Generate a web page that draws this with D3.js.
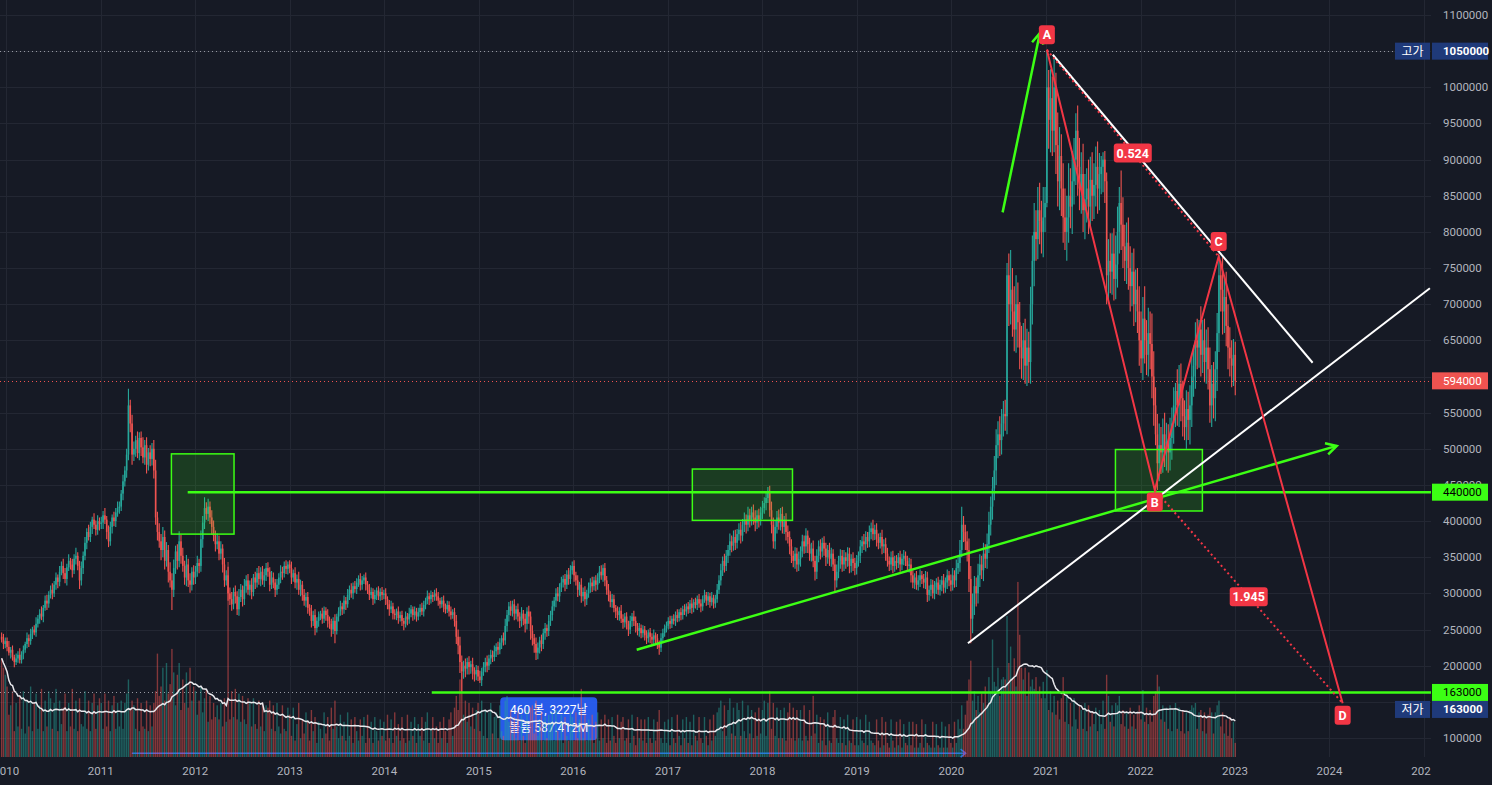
<!DOCTYPE html>
<html>
<head>
<meta charset="utf-8">
<script src="https://d3js.org/d3.v7.min.js"></script>
<style>
html, body { margin: 0; padding: 0; background: #161a25; overflow: hidden; }
svg { display: block; font-family: Roboto, "Noto Sans CJK KR", sans-serif; }
</style>
</head>
<body>
<svg id="chart" width="1492" height="785"></svg>
<script>
// weekly bars, first bar = week of 2009-12-14, prices in 1000 won
var firstWeek = "2009-12-14";
var firstOpen = 240;

var closes = [
  // 2009
  236, 230, 234,
  // 2010
  226, 218, 222, 212, 205, 210, 215, 208,
  216, 222, 230, 238, 234, 244, 250, 246, 258, 265,
  272, 268, 280, 290, 286, 298, 305,
  300, 312, 322, 316, 330, 338, 328,
  320, 336, 345, 340, 332, 348, 352, 338, 318, 335,
  352, 370, 385, 378, 392, 402, 395, 388, 400, 396,
  // 2011
  398, 408, 402, 385, 372, 392, 405, 400, 412, 418,
  420, 438, 455, 470, 492, 560, 535, 492,
  500, 512, 494, 515, 502, 488, 505, 478, 495, 486, 500, 470,
  405, 385, 372, 360, 378, 345, 360, 330, 318, 305,
  335, 358, 345, 372, 352, 338, 322, 340, 318, 312, 330, 322,
  // 2012
  330, 342, 338, 375, 398, 418, 410, 420, 405, 392,
  380, 368, 372, 355, 362, 340, 318, 325, 300, 292,
  285, 302, 296, 278, 295, 305, 292, 310, 318, 305,
  312, 302, 322, 315, 328, 320, 330, 318, 325, 335,
  330, 312, 322, 315, 305, 312, 322, 330, 328, 338, 334, 340,
  // 2013
  335, 322, 328, 315, 320, 305, 312, 298, 290, 295,
  280, 275, 262, 270, 252, 262, 268, 272, 265, 276,
  270, 262, 258, 250, 262, 248, 268, 275, 282, 278,
  290, 285, 298, 305, 300, 310, 306, 315, 320, 312,
  318, 322, 312, 305, 298, 302, 292, 298, 304, 296, 302, 298,
  // 2014
  300, 292, 285, 278, 282, 272, 270, 275, 266, 270,
  262, 258, 268, 264, 272, 278, 270, 275, 268, 274,
  280, 275, 284, 290, 296, 292, 298, 295, 300, 296,
  290, 285, 290, 282, 278, 284, 275, 270, 274, 262,
  240, 228, 205, 192, 200, 196, 205, 198, 202, 192, 188, 194,
  // 2015
  185, 180, 192, 198, 205, 200, 210, 215, 212, 220,
  226, 222, 232, 238, 235, 255, 270, 282, 276, 285,
  272, 278, 268, 262, 272, 265, 258, 275, 268, 248,
  238, 230, 218, 225, 235, 230, 245, 252, 248, 262,
  270, 282, 290, 300, 296, 308, 315, 320, 312, 326, 320, 332,
  // 2016
  338, 325, 318, 305, 312, 296, 302, 292, 300, 308,
  315, 310, 318, 312, 322, 330, 325, 335, 318, 305,
  298, 288, 292, 280, 275, 270, 276, 265, 260, 268,
  258, 250, 262, 268, 262, 255, 248, 252, 245, 250,
  242, 238, 246, 240, 236, 242, 238, 230, 225, 238, 245, 252,
  // 2017
  255, 262, 258, 265, 262, 270, 266, 274, 270, 278,
  275, 282, 278, 286, 280, 288, 284, 292, 286, 282,
  292, 298, 290, 296, 288, 294, 286, 292, 305, 318,
  332, 345, 338, 352, 360, 372, 366, 378, 370, 382,
  388, 380, 395, 402, 395, 408, 402, 412, 405, 398, 408, 402, 412,
  // 2018
  418, 425, 432, 440, 415, 395, 372, 392, 405, 398,
  410, 392, 400, 385, 378, 365, 352, 345, 355, 340,
  348, 358, 372, 365, 380, 368, 355, 362, 345, 330,
  352, 365, 358, 370, 362, 350, 360, 348, 355, 340,
  318, 330, 345, 352, 340, 350, 345, 355, 338, 348, 342, 335,
  // 2019
  345, 352, 365, 372, 368, 378, 372, 385, 390, 382,
  388, 375, 370, 378, 365, 368, 355, 345, 340, 350,
  338, 345, 342, 350, 340, 348, 352, 345, 338, 340,
  325, 315, 322, 312, 318, 325, 320, 315, 322, 298,
  305, 312, 300, 308, 315, 305, 312, 318, 308, 315, 325, 318,
  // 2020
  312, 325, 318, 335, 342, 360, 395, 385, 372, 360,
  320, 265, 285, 310, 300, 325, 340, 332, 355, 348,
  368, 395, 420, 445, 470, 505, 520, 512, 535, 548,
  545, 740, 700, 720, 690, 665, 700, 675, 640, 625,
  650, 615, 640, 620, 700, 760, 800, 790, 830, 815, 800, 820,
  // 2021
  840, 1000, 955, 985, 940, 1000, 920, 870, 905, 860,
  820, 800, 820, 850, 835, 870, 900, 940, 890, 860,
  880, 830, 845, 860, 835, 872, 850, 865, 890, 860,
  880, 890, 900, 870, 740, 760, 745, 770, 735, 755,
  800, 840, 810, 780, 760, 785, 750, 725, 745, 700, 720, 690,
  // 2022
  650, 625, 680, 650, 630, 660, 645, 600, 560, 520,
  480, 505, 495, 520, 500, 510, 495, 515, 535, 560,
  580, 560, 590, 570, 545, 530, 555, 540, 560, 600,
  615, 650, 640, 665, 630, 650, 620, 640, 610, 560,
  590, 570, 610, 660, 740, 720, 690, 710, 670, 640, 625, 615, 630,
  // 2023
  594
];

// upper / lower wick beyond the body, 1000 won
var wickUp = [
  6, 8, 5,
  5, 8, 4, 6, 3, 7, 5, 9,
  4, 6, 3, 8, 5, 7, 4, 6, 9, 5,
  6, 10, 4, 7, 8, 5, 6,
  9, 5, 7, 4, 8, 6, 10,
  7, 5, 9, 4, 8, 6, 11, 5, 7, 9,
  6, 8, 5, 10, 7, 4, 9, 6, 8, 5,
  // 2011
  8, 6, 10, 5, 9, 7, 4, 8, 6, 9,
  7, 5, 9, 6, 8, 23, 8, 12,
  10, 6, 12, 8, 9, 14, 7, 11, 6, 10, 8, 12,
  15, 8, 12, 10, 14, 9, 11, 7, 13, 10,
  12, 8, 10, 14, 9, 11, 7, 13, 8, 10, 6, 9,
  // 2012
  8, 10, 6, 12, 9, 15, 8, 11, 7, 10,
  9, 7, 11, 8, 10, 6, 9, 7, 12, 8,
  10, 6, 9, 7, 11, 8, 6, 10, 7, 9,
  6, 9, 5, 8, 7, 10, 6, 8, 9, 7,
  8, 6, 9, 7, 5, 8, 6, 9, 7, 6, 8, 4,
  // 2013
  6, 9, 5, 8, 6, 10, 7, 5, 8, 6,
  7, 5, 9, 6, 8, 5, 7, 4, 8, 6,
  5, 8, 6, 7, 5, 9, 4, 6, 8, 5,
  7, 5, 8, 6, 9, 5, 7, 6, 5, 8,
  6, 4, 7, 5, 8, 6, 5, 7, 4, 6, 5, 7,
  // 2014
  5, 7, 4, 6, 8, 5, 6, 4, 7, 5,
  6, 4, 7, 5, 8, 6, 4, 7, 5, 6,
  5, 7, 6, 4, 8, 5, 6, 4, 5, 7,
  6, 4, 5, 7, 4, 6, 5, 7, 4, 6,
  8, 10, 12, 9, 7, 10, 6, 8, 5, 9, 6, 7,
  // 2015
  6, 8, 5, 7, 6, 9, 5, 7, 6, 8,
  5, 7, 6, 4, 8, 10, 7, 6, 8, 5,
  7, 5, 8, 6, 9, 5, 7, 6, 8, 7,
  8, 6, 9, 7, 5, 8, 6, 7, 5, 8,
  6, 8, 5, 7, 9, 6, 8, 5, 7, 6, 9, 7,
  // 2016
  6, 8, 5, 7, 4, 9, 6, 8, 5, 7,
  6, 8, 5, 7, 6, 8, 9, 5, 7, 6,
  8, 5, 7, 6, 4, 7, 5, 8, 6, 5,
  6, 4, 7, 5, 8, 6, 4, 7, 5, 6,
  5, 7, 4, 6, 5, 8, 4, 6, 5, 7, 6, 5,
  // 2017
  6, 5, 7, 4, 6, 5, 8, 4, 6, 5,
  7, 4, 6, 5, 8, 4, 6, 5, 7, 6,
  5, 7, 4, 6, 5, 8, 4, 6, 8, 7,
  9, 6, 10, 8, 7, 11, 8, 9, 10, 7,
  9, 11, 8, 10, 7, 12, 9, 8, 11, 10, 7, 9, 8,
  // 2018
  10, 8, 8, 7, 9, 12, 10, 8, 9, 11,
  8, 10, 7, 11, 9, 8, 10, 7, 9, 8,
  10, 7, 9, 8, 10, 7, 9, 8, 11, 7,
  9, 8, 10, 7, 9, 8, 7, 10, 8, 6,
  8, 10, 7, 9, 8, 10, 7, 9, 8, 6, 9, 7,
  // 2019
  8, 6, 9, 7, 10, 8, 7, 9, 8, 12,
  7, 9, 8, 6, 10, 7, 9, 8, 6, 8,
  9, 7, 8, 6, 9, 7, 8, 6, 7, 9,
  8, 7, 6, 9, 7, 8, 6, 7, 9, 8,
  6, 8, 7, 9, 6, 8, 7, 6, 9, 7, 8, 6,
  // 2020
  8, 10, 7, 12, 9, 14, 25, 12, 10, 14,
  16, 18, 15, 14, 12, 16, 14, 12, 15, 13,
  15, 18, 14, 16, 20, 22, 18, 25, 20, 18,
  20, 17, 30, 55, 30, 35, 40, 30, 28, 30,
  24, 30, 26, 22, 24, 35, 40, 30, 32, 38, 28, 42,
  // 2021
  22, 50, 24, 40, 30, 40, 20, 45, 40, 30,
  35, 40, 30, 45, 38, 42, 30, 24, 35, 40,
  30, 42, 35, 28, 40, 32, 38, 30, 28, 35,
  29, 15, 10, 12, 12, 30, 38, 28, 35, 40,
  35, 22, 45, 38, 30, 28, 35, 30, 26, 32, 28, 30,
  // 2022
  35, 40, 30, 45, 28, 35, 30, 42, 35, 25,
  28, 30, 25, 22, 30, 26, 24, 28, 22, 25,
  11, 30, 26, 28, 24, 22, 26, 24, 28, 30,
  28, 25, 30, 13, 32, 28, 30, 25, 28, 30,
  26, 30, 25, 28, 28, 20, 45, 30, 35, 30, 28, 25, 22,
  // 2023
  18
];

var wickDown = [
  4, 7, 6,
  6, 4, 8, 5, 7, 4, 6, 5,
  5, 7, 4, 6, 8, 5, 7, 4, 6, 5,
  7, 5, 8, 4, 9, 6, 5,
  8, 5, 7, 9, 6, 5, 8,
  6, 9, 5, 7, 10, 5, 8, 6, 12, 7,
  8, 6, 9, 5, 7, 10, 6, 8, 7, 9,
  // 2011
  7, 9, 6, 10, 8, 6, 9, 7, 8, 6,
  8, 6, 9, 7, 10, 8, 12, 14,
  9, 11, 7, 10, 12, 8, 10, 12, 8, 10, 9, 11,
  10, 12, 9, 14, 10, 12, 8, 15, 10, 28,
  10, 8, 12, 9, 11, 8, 10, 12, 9, 11, 8, 10,
  // 2012
  9, 7, 10, 8, 12, 9, 8, 10, 9, 11,
  8, 10, 7, 9, 8, 11, 9, 7, 10, 8,
  9, 7, 10, 8, 9, 7, 10, 8, 9, 7,
  8, 10, 6, 9, 7, 8, 10, 6, 9, 8,
  7, 9, 6, 8, 10, 7, 6, 8, 9, 6, 7, 8,
  // 2013
  7, 9, 6, 8, 10, 7, 9, 8, 7, 9,
  8, 6, 9, 7, 10, 6, 8, 5, 7, 6,
  8, 9, 7, 10, 6, 17, 5, 7, 6, 8,
  6, 8, 5, 7, 6, 8, 5, 7, 6, 8,
  7, 5, 8, 6, 7, 5, 8, 6, 7, 5, 6, 7,
  // 2014
  6, 8, 7, 9, 5, 8, 6, 7, 8, 5,
  7, 9, 5, 8, 6, 5, 8, 6, 7, 5,
  6, 5, 7, 6, 5, 8, 6, 7, 5, 6,
  7, 6, 5, 8, 6, 5, 7, 6, 5, 8,
  10, 12, 15, 29, 10, 12, 8, 10, 9, 11, 10, 8,
  // 2015
  6, 4, 8, 6, 7, 9, 6, 8, 7, 6,
  8, 7, 6, 9, 7, 6, 8, 9, 7, 8,
  9, 8, 7, 10, 8, 9, 12, 8, 10, 12,
  10, 12, 10, 9, 8, 10, 7, 9, 8, 7,
  7, 8, 6, 9, 7, 8, 6, 7, 9, 6, 8, 7,
  // 2016
  6, 9, 7, 10, 8, 9, 7, 10, 8, 6,
  7, 8, 6, 9, 7, 8, 6, 9, 8, 7,
  9, 7, 8, 6, 9, 7, 8, 6, 9, 7,
  8, 9, 6, 8, 7, 9, 6, 8, 7, 6,
  7, 8, 6, 9, 7, 6, 8, 7, 10, 6, 7, 5,
  // 2017
  6, 5, 7, 6, 5, 7, 6, 5, 7, 6,
  5, 7, 6, 5, 8, 6, 5, 7, 6, 8,
  6, 5, 7, 6, 8, 5, 7, 6, 5, 6,
  7, 8, 9, 7, 10, 8, 9, 7, 10, 8,
  9, 11, 8, 10, 12, 9, 11, 8, 10, 12, 9, 11, 8,
  // 2018
  9, 8, 10, 7, 9, 12, 10, 11, 9, 10,
  11, 9, 10, 12, 9, 11, 10, 9, 11, 10,
  9, 11, 8, 10, 9, 12, 10, 11, 9, 12,
  10, 9, 11, 8, 10, 12, 9, 10, 11, 9,
  16, 10, 9, 11, 10, 9, 11, 8, 10, 9, 11, 10,
  // 2019
  9, 8, 10, 9, 8, 10, 9, 8, 10, 9,
  8, 10, 9, 8, 11, 9, 10, 8, 9, 8,
  10, 8, 9, 7, 10, 8, 9, 7, 8, 9,
  10, 8, 9, 7, 8, 9, 7, 8, 9, 10,
  8, 9, 7, 8, 9, 7, 8, 9, 8, 7, 9, 8,
  // 2020
  9, 8, 10, 9, 8, 12, 10, 14, 12, 16,
  18, 34, 20, 15, 18, 14, 16, 12, 15, 13,
  14, 12, 15, 18, 16, 20, 18, 22, 20, 18,
  20, 25, 30, 28, 35, 30, 32, 35, 30, 28,
  30, 25, 28, 29, 30, 28, 35, 30, 28, 32, 30, 35,
  // 2021
  20, 6, 40, 45, 35, 30, 40, 35, 40, 38,
  35, 25, 40, 35, 30, 38, 32, 35, 40, 30,
  35, 30, 40, 32, 38, 30, 35, 32, 30, 35,
  30, 28, 35, 30, 40, 35, 30, 32, 30, 28,
  32, 30, 35, 30, 28, 32, 30, 35, 28, 30, 25, 30,
  // 2022
  35, 20, 30, 32, 28, 30, 35, 30, 28, 15,
  37, 25, 30, 28, 25, 30, 28, 25, 30, 28,
  30, 28, 30, 32, 28, 18, 30, 28, 34, 30,
  28, 32, 30, 28, 30, 25, 28, 30, 28, 24,
  30, 28, 32, 30, 26, 30, 32, 30, 28, 30, 25, 30, 28,
  // 2023
  20
];

// weekly volume, 10,000 shares
var volumes = [
  420, 380, 350,
  300, 180, 220, 280, 110, 230, 130, 260,
  120, 280, 100, 240, 130, 300, 110, 230, 270, 120,
  220, 290, 110, 240, 130, 280, 250,
  120, 230, 290, 110, 240, 140, 210,
  270, 110, 230, 130, 290, 120, 240, 110, 250, 140,
  130, 280, 120, 240, 110, 230, 270, 120, 220, 250,
  // 2011
  230, 120, 270, 130, 240, 110, 220, 260, 120, 230,
  130, 240, 120, 230, 270, 330, 200, 240,
  220, 120, 250, 110, 230, 130, 120, 240, 110, 220, 130, 230,
  280, 440, 260, 300, 380, 240, 400, 270, 310, 460,
  360, 220, 350, 400, 200, 330, 230, 360, 210, 380, 240, 300,
  // 2012
  280, 180, 240, 300, 190, 250, 290, 150, 260, 160,
  230, 170, 220, 160, 230, 130, 250, 150, 830, 160,
  280, 170, 290, 160, 270, 150, 260, 160, 140, 250,
  230, 130, 250, 140, 120, 240, 130, 230, 110, 220,
  210, 240, 120, 220, 110, 230, 130, 100, 220, 120, 110, 210,
  // 2013
  180, 90, 210, 70, 140, 230, 80, 160, 100, 190,
  150, 70, 200, 110, 170, 60, 150, 120, 80, 190,
  100, 170, 70, 210, 120, 240, 130, 80, 180, 90,
  150, 70, 190, 90, 160, 60, 170, 110, 70, 160,
  90, 170, 60, 180, 80, 150, 60, 170, 110, 70, 160, 90,
  // 2014
  150, 70, 180, 80, 160, 60, 190, 90, 140, 70,
  170, 80, 60, 180, 70, 150, 90, 170, 60, 140,
  90, 170, 70, 150, 190, 60, 120, 170, 80, 130,
  60, 150, 80, 170, 110, 60, 160, 190, 90, 210,
  260, 200, 330, 360, 180, 240, 150, 230, 130, 210, 120, 200,
  // 2015
  230, 110, 240, 90, 200, 80, 190, 230, 100, 170,
  190, 80, 220, 110, 90, 240, 260, 150, 200, 100,
  170, 80, 190, 70, 180, 90, 60, 200, 100, 210,
  220, 100, 240, 90, 160, 190, 70, 170, 80, 180,
  150, 190, 70, 200, 110, 80, 180, 60, 170, 90, 70, 190,
  // 2016
  170, 70, 190, 80, 160, 290, 80, 180, 70, 160,
  80, 180, 60, 150, 190, 70, 160, 80, 180, 60,
  160, 70, 170, 90, 60, 180, 80, 150, 170, 70,
  80, 160, 60, 180, 90, 50, 170, 80, 160, 70,
  160, 60, 170, 80, 60, 160, 70, 150, 200, 80, 60, 150,
  // 2017
  60, 160, 50, 170, 80, 60, 180, 90, 50, 160,
  80, 170, 60, 150, 50, 180, 90, 70, 170, 80,
  60, 170, 90, 50, 160, 70, 180, 90, 190, 210,
  240, 110, 220, 90, 200, 250, 100, 210, 90, 230,
  200, 90, 240, 110, 80, 220, 100, 200, 80, 190, 90, 210, 100,
  // 2018
  200, 240, 90, 230, 280, 120, 230, 90, 210, 80,
  200, 80, 210, 70, 190, 230, 80, 210, 70, 200,
  80, 200, 70, 220, 90, 70, 200, 90, 260, 100,
  180, 60, 170, 70, 160, 50, 190, 70, 60, 170,
  200, 80, 60, 170, 60, 160, 50, 180, 70, 60, 160, 50,
  // 2019
  170, 50, 160, 70, 60, 180, 50, 150, 70, 60,
  50, 160, 70, 40, 170, 50, 150, 60, 40, 160,
  70, 40, 150, 50, 160, 40, 140, 60, 50, 150,
  50, 150, 40, 140, 40, 60, 160, 40, 140, 60,
  50, 40, 150, 40, 140, 50, 40, 150, 40, 130, 40, 140,
  // 2020
  60, 40, 150, 60, 160, 120, 220, 120, 180, 240,
  330, 410, 240, 280, 200, 260, 190, 270, 230, 300,
  220, 340, 280, 500, 320, 300, 380, 260, 330, 340,
  330, 600, 400, 470, 330, 420, 300, 745, 520, 380,
  330, 380, 260, 360, 300, 330, 290, 340, 280, 300, 250, 320,
  // 2021
  250, 370, 200, 280, 190, 260, 180, 240, 160, 250,
  340, 150, 260, 140, 230, 130, 250, 160, 120, 220,
  200, 120, 230, 110, 220, 130, 190, 140, 210, 110,
  200, 140, 240, 120, 350, 260, 150, 220, 130, 230,
  220, 260, 140, 200, 130, 190, 120, 210, 130, 180, 120, 190,
  // 2022
  220, 160, 285, 150, 210, 140, 200, 150, 260, 280,
  350, 300, 160, 220, 150, 210, 120, 220, 110, 200,
  230, 120, 210, 110, 200, 100, 190, 110, 200, 220,
  210, 230, 120, 190, 200, 110, 190, 100, 180, 210,
  190, 100, 190, 220, 240, 130, 190, 100, 160, 90, 170, 80, 150,
  // 2023
  60
];

var priceTicks = [100000, 150000, 200000, 250000, 300000, 350000, 400000, 450000, 500000, 550000,
  600000, 650000, 700000, 750000, 800000, 850000, 900000, 950000, 1000000, 1050000, 1100000];
var yearTicks = [2010, 2011, 2012, 2013, 2014, 2015, 2016, 2017, 2018, 2019, 2020, 2021, 2022, 2023, 2024, 2025];

// drawings (date, price in 1000 won)
var zones = [
  {from: "2011-10-01", to: "2012-05-30", top: 493, bottom: 382},
  {from: "2017-04-05", to: "2018-04-27", top: 472, bottom: 401},
  {from: "2021-09-26", to: "2022-08-28", top: 499, bottom: 414}
];
var levels = [
  {from: "2011-12-03", price: 440},
  {from: "2014-07-03", price: 163}
];
var greenArrows = [
  {from: ["2016-09-02", 222], to: ["2024-01-29", 504]},
  {from: ["2020-07-17", 827], to: ["2020-12-08", 1075]}
];
var whiteLines = [
  {from: ["2020-03-05", 231], to: ["2025-01-23", 722]},
  {from: ["2021-01-27", 1045], to: ["2023-10-28", 619]}
];
var abcd = [
  {label: "A", date: "2021-01-04", price: 1052, above: true},
  {label: "B", date: "2022-02-25", price: 443, above: false},
  {label: "C", date: "2022-10-30", price: 766, above: true},
  {label: "D", date: "2024-02-21", price: 148, above: false}
];
var ratios = [
  {a: 0, b: 2, text: "0.524"},
  {a: 1, b: 3, text: "1.945"}
];
var measure = {from: "2011-05-01", to: "2020-02-25", price: 79,
  lines: ["460 봉, 3227날", "볼륨 587.412M"]};

var W = 1492, H = 785;
var plotRight = 1431, plotBottom = 757;
var bg = "#161a25";
var upColor = "#26a69a", downColor = "#ef5350";
var lime = "#3cff14", red = "#f23645", navy = "#1f3a7a";
var axisText = "#b2b5be";

var parseDate = d3.utcParse("%Y-%m-%d");

var x = d3.scaleUtc()
  .domain([Date.UTC(2010, 0, 1), Date.UTC(2023, 0, 1)])
  .range([6.3, 1235]);
var y = d3.scaleLinear().domain([100, 1100]).range([738, 15]);
var vy = d3.scaleLinear().domain([0, 800]).range([plotBottom, plotBottom - 188]);

var start = parseDate(firstWeek);
var bars = closes.map(function (c, i) {
  var o = i ? closes[i - 1] : firstOpen;
  return {
    date: d3.utcDay.offset(start, 7 * i),
    open: o, close: c,
    high: Math.max(o, c) + wickUp[i],
    low: Math.min(o, c) - wickDown[i],
    volume: volumes[i]
  };
});
bars.forEach(function (d, i) {
  d.ma = d3.mean(bars.slice(Math.max(0, i - 19), i + 1), function (v) { return v.volume; });
});
var hi = d3.max(bars, function (d) { return d.high; });
var lo = d3.min(bars, function (d) { return d.low; });
var last = closes[closes.length - 1];

function px(p) { return [x(parseDate(p[0])), y(p[1])]; }

var svg = d3.select("#chart");
svg.append("rect").attr("width", W).attr("height", H).attr("fill", bg);
svg.append("defs").append("clipPath").attr("id", "plot")
  .append("rect").attr("width", plotRight).attr("height", plotBottom);

// grid
var grid = svg.append("g").attr("stroke", "#232733").attr("stroke-width", 1);
grid.selectAll(".hg").data(priceTicks).enter().append("line")
  .attr("x1", 0).attr("x2", plotRight)
  .attr("y1", function (d) { return Math.round(y(d / 1000)) + 0.5; })
  .attr("y2", function (d) { return Math.round(y(d / 1000)) + 0.5; });
grid.selectAll(".vg").data(yearTicks).enter().append("line")
  .attr("y1", 0).attr("y2", plotBottom)
  .attr("x1", function (d) { return Math.round(x(Date.UTC(d, 0, 1))) + 0.5; })
  .attr("x2", function (d) { return Math.round(x(Date.UTC(d, 0, 1))) + 0.5; });

// date range measure (under the volume pane)
var mx1 = x(parseDate(measure.from)), mx2 = x(parseDate(measure.to)), my = y(measure.price);
var mcx = (mx1 + mx2) / 2;
svg.append("rect").attr("x", mcx - 48.5).attr("y", my - 56).attr("width", 97).attr("height", 43)
  .attr("rx", 4).attr("fill", "#2962ff").attr("fill-opacity", 0.9);
svg.append("g").selectAll("text").data(measure.lines).enter().append("text")
  .attr("x", mcx).attr("y", function (d, i) { return my - 39 + i * 18; })
  .attr("text-anchor", "middle").attr("fill", "#ffffff").attr("font-size", 12)
  .text(function (d) { return d; });
svg.append("line").attr("x1", mx1).attr("x2", mx2).attr("y1", my).attr("y2", my)
  .attr("stroke", "#2962ff").attr("stroke-width", 1.5);
svg.append("path").attr("d", "M" + (mx2 - 5) + "," + (my - 4) + "L" + mx2 + "," + my + "L" + (mx2 - 5) + "," + (my + 4))
  .attr("fill", "none").attr("stroke", "#2962ff").attr("stroke-width", 1.5);

// volume
var plot = svg.append("g").attr("clip-path", "url(#plot)");
plot.append("g").selectAll("rect").data(bars).enter().append("rect")
  .attr("x", function (d) { return x(d.date) - 0.7; })
  .attr("width", 1.4)
  .attr("y", function (d) { return vy(d.volume); })
  .attr("height", function (d) { return plotBottom - vy(d.volume); })
  .attr("fill", function (d) { return d.close >= d.open ? upColor : downColor; })
  .attr("fill-opacity", 0.5);
plot.append("path").datum(bars)
  .attr("d", d3.line().x(function (d) { return x(d.date); }).y(function (d) { return vy(d.ma); }))
  .attr("fill", "none").attr("stroke", "#e8e8ec").attr("stroke-width", 1.5);

// candles
var candle = plot.append("g").selectAll("g").data(bars).enter().append("g")
  .attr("fill", function (d) { return d.close >= d.open ? upColor : downColor; })
  .attr("stroke", function (d) { return d.close >= d.open ? upColor : downColor; });
candle.append("line")
  .attr("x1", function (d) { return x(d.date); }).attr("x2", function (d) { return x(d.date); })
  .attr("y1", function (d) { return y(d.high); }).attr("y2", function (d) { return y(d.low); })
  .attr("stroke-width", 1.1);
candle.append("rect")
  .attr("x", function (d) { return x(d.date) - 0.8; }).attr("width", 1.6)
  .attr("y", function (d) { return y(Math.max(d.open, d.close)); })
  .attr("height", function (d) { return Math.max(1, Math.abs(y(d.open) - y(d.close))); })
  .attr("stroke", "none");

// price lines
function hLine(price, color) {
  plot.append("line").attr("x1", 0).attr("x2", plotRight)
    .attr("y1", Math.round(y(price)) + 0.5).attr("y2", Math.round(y(price)) + 0.5)
    .attr("stroke", color).attr("stroke-width", 1).attr("stroke-dasharray", "1,3");
}
hLine(hi, "#9598a1");
hLine(lo, "#9598a1");
hLine(last, downColor);

// zones
plot.append("g").selectAll("rect").data(zones).enter().append("rect")
  .attr("x", function (d) { return x(parseDate(d.from)); })
  .attr("width", function (d) { return x(parseDate(d.to)) - x(parseDate(d.from)); })
  .attr("y", function (d) { return y(d.top); })
  .attr("height", function (d) { return y(d.bottom) - y(d.top); })
  .attr("fill", lime).attr("fill-opacity", 0.15)
  .attr("stroke", lime).attr("stroke-width", 1.5);

// horizontal levels
plot.append("g").selectAll("line").data(levels).enter().append("line")
  .attr("x1", function (d) { return x(parseDate(d.from)); }).attr("x2", plotRight)
  .attr("y1", function (d) { return y(d.price); }).attr("y2", function (d) { return y(d.price); })
  .attr("stroke", lime).attr("stroke-width", 2.5);

// green arrows
greenArrows.forEach(function (a) {
  var p0 = px(a.from), p1 = px(a.to);
  var ang = Math.atan2(p1[1] - p0[1], p1[0] - p0[0]);
  var len = 12, spread = 0.5;
  var h1 = [p1[0] - len * Math.cos(ang - spread), p1[1] - len * Math.sin(ang - spread)];
  var h2 = [p1[0] - len * Math.cos(ang + spread), p1[1] - len * Math.sin(ang + spread)];
  plot.append("line").attr("x1", p0[0]).attr("y1", p0[1]).attr("x2", p1[0]).attr("y2", p1[1])
    .attr("stroke", lime).attr("stroke-width", 2.5);
  plot.append("path").attr("d", d3.line()([h1, p1, h2]))
    .attr("fill", "none").attr("stroke", lime).attr("stroke-width", 2.5);
});

// white trend lines
plot.append("g").selectAll("line").data(whiteLines).enter().append("line")
  .attr("x1", function (d) { return px(d.from)[0]; }).attr("y1", function (d) { return px(d.from)[1]; })
  .attr("x2", function (d) { return px(d.to)[0]; }).attr("y2", function (d) { return px(d.to)[1]; })
  .attr("stroke", "#ffffff").attr("stroke-width", 2);

// ABCD pattern
var pts = abcd.map(function (d) { return [x(parseDate(d.date)), y(d.price)]; });
ratios.forEach(function (r) {
  plot.append("line").attr("x1", pts[r.a][0]).attr("y1", pts[r.a][1])
    .attr("x2", pts[r.b][0]).attr("y2", pts[r.b][1])
    .attr("stroke", red).attr("stroke-width", 2).attr("stroke-dasharray", "2,3");
});
plot.append("path").attr("d", d3.line()(pts))
  .attr("fill", "none").attr("stroke", red).attr("stroke-width", 2);

function tag(g, cx, cy, w, h, text) {
  g.append("rect").attr("x", cx - w / 2).attr("y", cy - h / 2).attr("width", w).attr("height", h)
    .attr("rx", 3).attr("fill", red);
  g.append("text").attr("x", cx).attr("y", cy + 4.5).attr("text-anchor", "middle")
    .attr("fill", "#ffffff").attr("font-size", 12.5).attr("font-weight", "bold").text(text);
}
var tags = svg.append("g");
ratios.forEach(function (r) {
  tag(tags, (pts[r.a][0] + pts[r.b][0]) / 2, (pts[r.a][1] + pts[r.b][1]) / 2, 38, 19, r.text);
});
abcd.forEach(function (d, i) {
  var cy = d.above ? pts[i][1] - 15 : pts[i][1] + 12;
  tag(tags, pts[i][0], cy, 16, 19, d.label);
});

// time axis
svg.append("g").selectAll("text").data(yearTicks).enter().append("text")
  .attr("x", function (d) { return x(Date.UTC(d, 0, 1)); }).attr("y", 775)
  .attr("text-anchor", "middle").attr("fill", axisText).attr("font-size", 11.5)
  .text(function (d) { return d; });

// price axis
var axis = svg.append("g");
axis.append("rect").attr("x", plotRight).attr("width", W - plotRight).attr("height", H).attr("fill", bg);
axis.selectAll("text").data(priceTicks).enter().append("text")
  .attr("x", 1443).attr("y", function (d) { return y(d / 1000) + 4; })
  .attr("fill", axisText).attr("font-size", 11.5)
  .text(function (d) { return d; });

function axisLabel(price, offset, fill, color, weight) {
  var cy = y(price) + offset;
  axis.append("rect").attr("x", plotRight + 1).attr("y", cy - 8.5).attr("width", 56).attr("height", 17)
    .attr("fill", fill);
  axis.append("text").attr("x", 1443).attr("y", cy + 4).attr("fill", color)
    .attr("font-size", 11.5).attr("font-weight", weight).text(Math.round(price * 1000));
}
function sideTag(price, offset, text) {
  var cy = y(price) + offset;
  axis.append("rect").attr("x", 1395).attr("y", cy - 8.5).attr("width", 35).attr("height", 17)
    .attr("fill", navy);
  axis.append("text").attr("x", 1412.5).attr("y", cy + 4.5).attr("text-anchor", "middle")
    .attr("fill", "#ffffff").attr("font-size", 12).text(text);
}
axisLabel(last, 0, downColor, "#ffffff", "normal");
levels.forEach(function (d) { axisLabel(d.price, 0, lime, "#000000", "normal"); });
axisLabel(hi, 0, navy, "#ffffff", "bold");
sideTag(hi, 0, "고가");
axisLabel(lo, 17, navy, "#ffffff", "bold");
sideTag(lo, 17, "저가");
</script>
</body>
</html>
